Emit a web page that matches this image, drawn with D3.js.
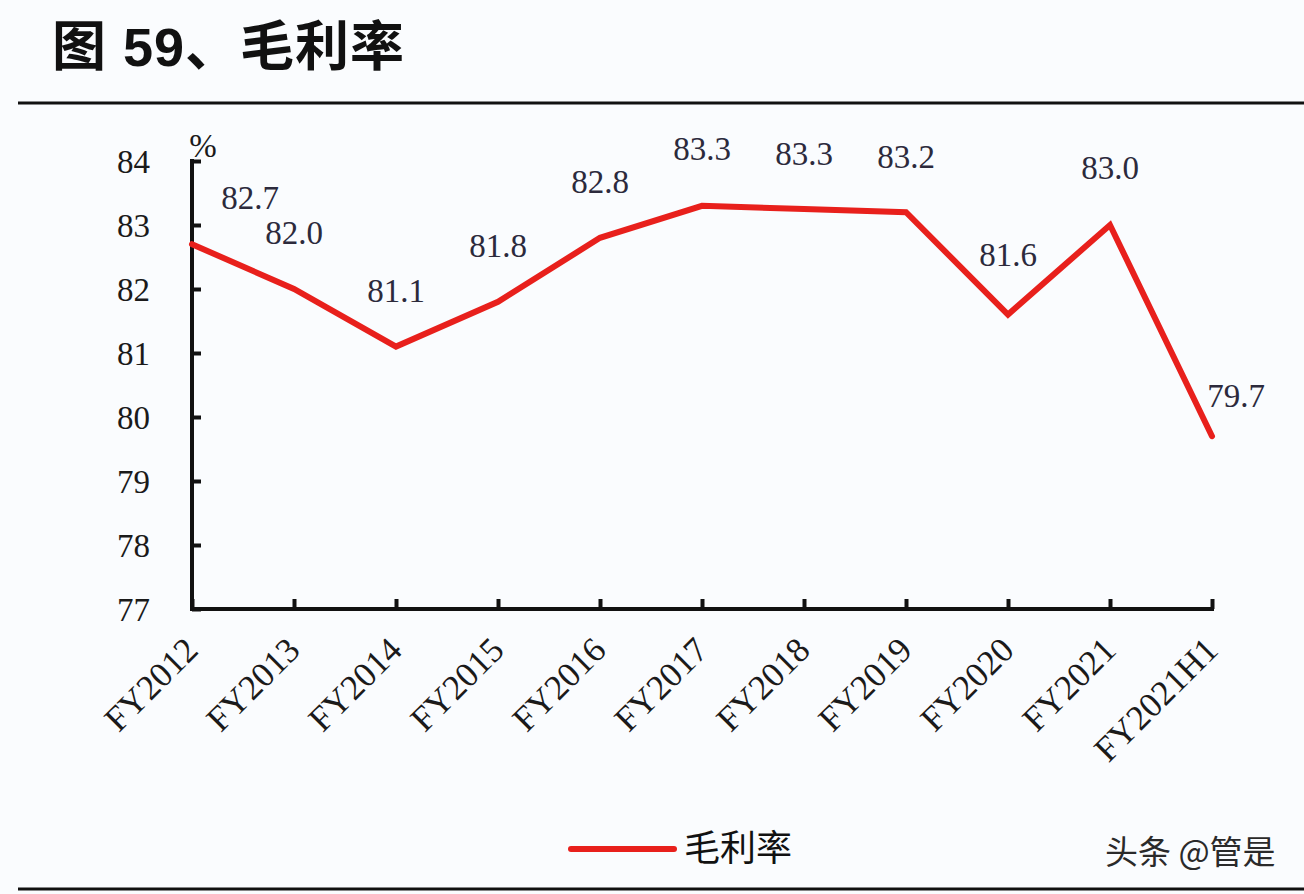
<!DOCTYPE html>
<html><head><meta charset="utf-8">
<script src="https://cdn.jsdelivr.net/npm/d3@7/dist/d3.min.js"></script>
<style>
html,body{margin:0;padding:0;background:#fafcfe;}
svg{display:block;}
</style></head>
<body>
<svg id="chart" width="1304" height="894"></svg>
<script>
// ---- data ----
const categories = ["FY2012","FY2013","FY2014","FY2015","FY2016","FY2017","FY2018","FY2019","FY2020","FY2021","FY2021H1"];
const grossMargin = [82.7, 82.0, 81.1, 81.8, 82.8, 83.3, 83.25, 83.2, 81.6, 83.0, 79.7];
const yTicks = [77, 78, 79, 80, 81, 82, 83, 84];
const seriesName = "毛利率";
const titleText = "图 59、毛利率";
const unitText = "%";
const watermark = "头条 @管是";

// label nudges (layout only)
const labelDx = [58, 0, 0, 0, 0, 0, 0, 0, 0, 0, 24];
const labelDy = [-47, -57, -56, -56, -56, -57, -56, -56, -60, -58, -41];

(function () {
const svg = d3.select("#chart");
const W = 1304, H = 894;
const pLeft = 192, pRight = 1212, pTop = 161, pBottom = 609;
const serif = "'Liberation Serif','Times New Roman',serif";
const cjk = "'Noto Sans CJK SC','Noto Sans',sans-serif";

svg.append("rect").attr("width", W).attr("height", H).attr("fill", "#fafcfe");

// title
svg.append("text").attr("x", 52).attr("y", 66)
  .attr("font-family", "'Liberation Sans','Noto Sans CJK SC',sans-serif")
  .attr("font-weight", 700).attr("font-size", 54).attr("letter-spacing", 1).attr("fill", "#111")
  .text(titleText);
svg.append("line").attr("x1", 18).attr("x2", W).attr("y1", 103).attr("y2", 103)
  .attr("stroke", "#111").attr("stroke-width", 3);
svg.append("line").attr("x1", 18).attr("x2", W).attr("y1", 889).attr("y2", 889)
  .attr("stroke", "#111").attr("stroke-width", 3);

const x = d3.scalePoint().domain(categories).range([pLeft, pRight]);
const y = d3.scaleLinear().domain([77, 84]).range([pBottom, pTop]);

// y axis
const yAxis = svg.append("g").attr("transform", `translate(${pLeft},0)`)
  .call(d3.axisRight(y).tickValues(yTicks).tickSize(9).tickFormat(""));
yAxis.select(".domain").remove();
yAxis.selectAll(".tick line").attr("stroke", "#111").attr("stroke-width", 4);
svg.append("line").attr("x1", pLeft).attr("x2", pLeft).attr("y1", pTop - 2).attr("y2", pBottom + 2)
  .attr("stroke", "#111").attr("stroke-width", 4);
svg.append("g").selectAll("text").data(yTicks).join("text")
  .attr("x", 150).attr("y", d => y(d)).attr("dy", "0.35em")
  .attr("text-anchor", "end").attr("font-family", serif).attr("font-size", 33).attr("fill", "#1a1a1a")
  .text(d => d);
svg.append("text").attr("x", 203).attr("y", 157).attr("text-anchor", "middle")
  .attr("font-family", serif).attr("font-size", 33).attr("fill", "#1a1a1a").text(unitText);

// x axis
const xAxis = svg.append("g").attr("transform", `translate(0,${pBottom})`)
  .call(d3.axisTop(x).tickSize(10).tickFormat(""));
xAxis.select(".domain").remove();
xAxis.selectAll(".tick line").attr("stroke", "#111").attr("stroke-width", 4);
svg.append("line").attr("x1", pLeft - 2).attr("x2", pRight + 2).attr("y1", pBottom).attr("y2", pBottom)
  .attr("stroke", "#111").attr("stroke-width", 4);
svg.append("g").selectAll("text").data(categories).join("text")
  .attr("transform", d => `translate(${x(d) + 8},${pBottom + 43}) rotate(-45)`)
  .attr("text-anchor", "end").attr("font-family", serif).attr("font-size", 35).attr("fill", "#1a1a1a")
  .text(d => d);

// line
const line = d3.line().x((d, i) => x(categories[i])).y(d => y(d));
svg.append("path").datum(grossMargin).attr("d", line)
  .attr("fill", "none").attr("stroke", "#e8201c").attr("stroke-width", 6)
  .attr("stroke-linejoin", "miter").attr("stroke-linecap", "round");

// data labels
svg.append("g").selectAll("text").data(grossMargin).join("text")
  .attr("x", (d, i) => x(categories[i]) + labelDx[i])
  .attr("y", (d, i) => y(d) + labelDy[i]).attr("dy", "0.35em")
  .attr("text-anchor", "middle").attr("font-family", serif).attr("font-size", 33)
  .attr("fill", "#2c2a3c")
  .text(d => d.toFixed(1));

// legend
svg.append("line").attr("x1", 571).attr("x2", 674).attr("y1", 849).attr("y2", 849)
  .attr("stroke", "#e8201c").attr("stroke-width", 6).attr("stroke-linecap", "round");
svg.append("text").attr("x", 684).attr("y", 861)
  .attr("font-family", cjk).attr("font-size", 36).attr("fill", "#111").text(seriesName);

// watermark
svg.append("text").attr("x", 1105).attr("y", 864)
  .attr("font-family", cjk).attr("font-size", 33).attr("fill", "#2a2a2a")
  .attr("stroke", "#ffffff").attr("stroke-width", 0.6).attr("paint-order", "stroke")
  .text(watermark);
})();
</script>
</body></html>
